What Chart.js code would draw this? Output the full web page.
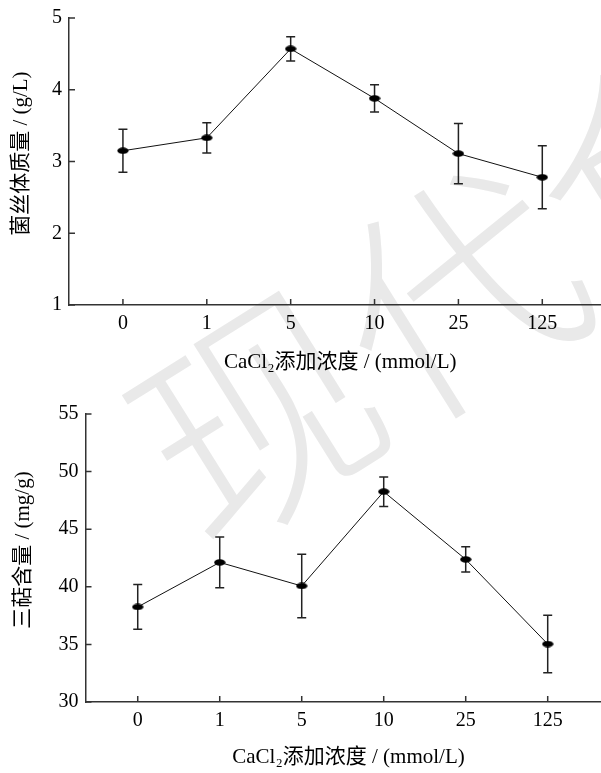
<!DOCTYPE html>
<html>
<head>
<meta charset="utf-8">
<script src="https://cdn.jsdelivr.net/npm/chart.js@4/dist/chart.umd.min.js"></script>
<style>
  html, body { margin: 0; padding: 0; background: #fff; }
  body { width: 601px; height: 773px; position: relative; overflow: hidden; }
  #wm { position: absolute; left: 150px; top: 350px; font-family: "Noto Sans CJK SC"; font-weight: 200;
        font-size: 236px; line-height: 236px; color: #e9e9e9; white-space: nowrap;
        transform-origin: 0 50%; transform: rotate(-32deg); }
  .box { position: absolute; left: 0; width: 601px; }
  #b1 { top: 0; height: 385px; }
  #b2 { top: 385px; height: 388px; }
</style>
</head>
<body>
<div id="wm">现代食品</div>
<div class="box" id="b1"><canvas id="c1"></canvas></div>
<div class="box" id="b2"><canvas id="c2"></canvas></div>
<script>
// ---- data ----
const categories = ['0', '1', '5', '10', '25', '125'];
const biomass = [3.15, 3.33, 4.57, 3.88, 3.11, 2.78];
const biomassErr = [0.30, 0.21, 0.17, 0.19, 0.42, 0.44];
const triterpene = [38.25, 42.12, 40.07, 48.26, 42.38, 35.03];
const triterpeneErr = [1.94, 2.20, 2.75, 1.28, 1.10, 2.50];
const xTitle = '\u00a0\u00a0CaCl₂添加浓度 / (mmol/L)';
const yTitle1 = '\u00a0\u00a0\u00a0菌丝体质量 / (g/L)';
const yTitle2 = '\u00a0\u00a0\u00a0三萜含量 / (mg/g)';

const FONT = "'Liberation Serif', 'Noto Sans CJK SC', serif";

// ellipse marker
const marker = document.createElement('canvas');
marker.width = 12; marker.height = 7;
(function () {
  const c = marker.getContext('2d');
  c.fillStyle = '#000';
  c.beginPath(); c.ellipse(6, 3.5, 5.6, 3.3, 0, 0, Math.PI * 2); c.fill();
})();

const errorBars = {
  id: 'errorBars',
  beforeDatasetsDraw(chart, args, opts) {
    const ctx = chart.ctx, xs = chart.scales.x, ys = chart.scales.y;
    const vals = opts.values, errs = opts.errors;
    ctx.save();
    ctx.strokeStyle = '#222'; ctx.lineWidth = 1.5;
    vals.forEach((v, i) => {
      const x = xs.getPixelForValue(i);
      const t = ys.getPixelForValue(v + errs[i]);
      const b = ys.getPixelForValue(v - errs[i]);
      ctx.beginPath();
      ctx.moveTo(x, t); ctx.lineTo(x, b);
      ctx.moveTo(x - 4.5, t); ctx.lineTo(x + 4.5, t);
      ctx.moveTo(x - 4.5, b); ctx.lineTo(x + 4.5, b);
      ctx.stroke();
    });
    ctx.restore();
  }
};

const innerTicks = {
  id: 'innerTicks',
  afterDraw(chart) {
    const ctx = chart.ctx, xs = chart.scales.x, ys = chart.scales.y, a = chart.chartArea;
    ctx.save();
    ctx.strokeStyle = '#333'; ctx.lineWidth = 1.5;
    ctx.beginPath();
    xs.ticks.forEach(t => {
      const x = xs.getPixelForValue(t.value);
      ctx.moveTo(x, a.bottom); ctx.lineTo(x, a.bottom - 6);
    });
    ys.ticks.forEach(t => {
      const y = ys.getPixelForValue(t.value);
      ctx.moveTo(a.left, y); ctx.lineTo(a.left + 6, y);
    });
    ctx.stroke();
    ctx.restore();
  }
};

function makeChart(id, values, errors, yMin, yMax, step, yT, cfg) {
  return new Chart(document.getElementById(id), {
    type: 'line',
    data: {
      datasets: [{
        data: values.map((v, i) => ({ x: i, y: v })),
        borderColor: '#111', borderWidth: 1,
        pointStyle: marker, pointRadius: 5, pointHoverRadius: 5,
        tension: 0, fill: false, clip: false
      }]
    },
    options: {
      responsive: true, maintainAspectRatio: false, animation: false,
      devicePixelRatio: 1,
      layout: { autoPadding: false, padding: { top: cfg.top, left: 0, right: 0, bottom: 0 } },
      plugins: {
        legend: { display: false }, tooltip: { enabled: false },
        errorBars: { values: values, errors: errors }
      },
      scales: {
        x: {
          type: 'linear', min: cfg.xmin, max: cfg.xmax,
          afterBuildTicks: s => { s.ticks = categories.map((c, i) => ({ value: i })); },
          afterFit: s => { s.height = cfg.xh; s.paddingLeft = 0; s.paddingRight = 0; },
          grid: { display: false, drawTicks: false },
          border: { display: true, color: '#333', width: 1.5 },
          ticks: {
            color: '#000', font: { family: FONT, size: 20 }, padding: cfg.xpad,
            maxRotation: 0, autoSkip: false,
            callback: v => categories[v]
          },
          title: { display: true, text: xTitle, color: '#000',
                   font: { family: FONT, size: 21 }, padding: { top: 0, bottom: cfg.xtb } }
        },
        y: {
          min: yMin, max: yMax,
          afterFit: s => { s.width = cfg.yw; s.paddingTop = 0; s.paddingBottom = 0; },
          grid: { display: false, drawTicks: false },
          border: { display: true, color: '#333', width: 1.5 },
          ticks: { stepSize: step, color: '#000', font: { family: FONT, size: 20 }, padding: 7 },
          title: { display: true, text: yT, color: '#000',
                   font: { family: FONT, size: 21 }, padding: { top: cfg.ytp, bottom: 0 } }
        }
      }
    },
    plugins: [errorBars, innerTicks]
  });
}

makeChart('c1', biomass, biomassErr, 1, 5, 1, yTitle1,
  { top: 18, xmin: -0.643, xmax: 5.70, xh: 80, xpad: 7, xtb: 10, yw: 69, ytp: 9 });
makeChart('c2', triterpene, triterpeneErr, 30, 55, 5, yTitle2,
  { top: 29, xmin: -0.637, xmax: 5.65, xh: 71, xpad: 7, xtb: 3, yw: 85.5, ytp: 11 });
</script>
</body>
</html>
